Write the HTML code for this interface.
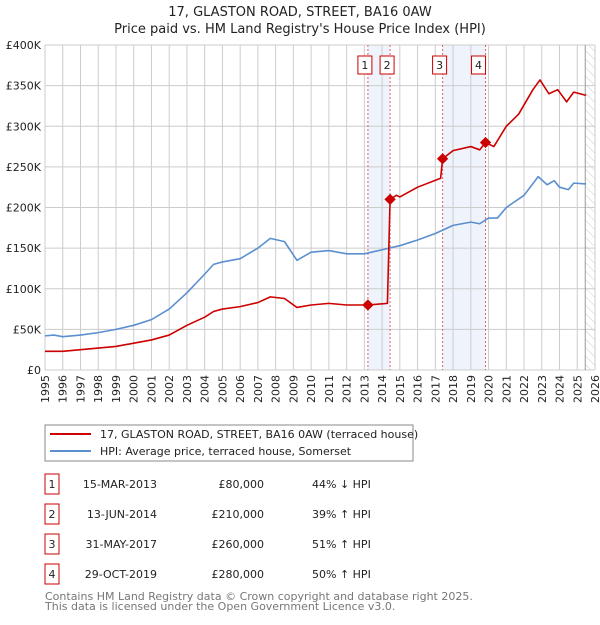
<!DOCTYPE html>
<html><head><meta charset="utf-8"><style>
body{margin:0;background:#fff;font-family:"Liberation Sans","DejaVu Sans",sans-serif}
svg text{font-family:"DejaVu Sans","Liberation Sans",sans-serif}
</style></head><body>
<svg id="c" width="600" height="620" xmlns="http://www.w3.org/2000/svg">
<text x="300" y="16" text-anchor="middle" font-size="13" fill="#222">17, GLASTON ROAD, STREET, BA16 0AW</text>
<text x="300" y="33" text-anchor="middle" font-size="13" fill="#222">Price paid vs. HM Land Registry's House Price Index (HPI)</text>
<g id="plot"></g>
<rect x="45" y="425" width="368" height="36" fill="#fff" stroke="#888"/>
<line x1="50" y1="434" x2="91" y2="434" stroke="#cc0000" stroke-width="2"/>
<text x="100" y="438" font-size="11" fill="#222">17, GLASTON ROAD, STREET, BA16 0AW (terraced house)</text>
<line x1="50" y1="451" x2="91" y2="451" stroke="#5b8fd0" stroke-width="2"/>
<text x="100" y="455" font-size="11" fill="#222">HPI: Average price, terraced house, Somerset</text>
<g id="tbl"></g>
<text x="45" y="600" font-size="11" fill="#777">Contains HM Land Registry data © Crown copyright and database right 2025.</text>
<text x="45" y="610" font-size="11" fill="#777">This data is licensed under the Open Government Licence v3.0.</text>
</svg>
<script>
const yTicks=[0,50,100,150,200,250,300,350,400];
const yTickLabels=["£0","£50K","£100K","£150K","£200K","£250K","£300K","£350K","£400K"];
const years=[1995,1996,1997,1998,1999,2000,2001,2002,2003,2004,2005,2006,2007,2008,2009,2010,2011,2012,2013,2014,2015,2016,2017,2018,2019,2020,2021,2022,2023,2024,2025,2026];
const hpiT=[1995,1995.5,1996,1997,1998,1999,2000,2001,2002,2003,2004,2004.5,2005,2006,2007,2007.7,2008.5,2009.2,2010,2011,2012,2013,2014,2015,2016,2017,2018,2019,2019.5,2020,2020.5,2021,2022,2022.8,2023.3,2023.7,2024,2024.5,2024.8,2025.5];
const hpiV=[42,43,41,43,46,50,55,62,75,95,118,130,133,137,150,162,158,135,145,147,143,143,148,153,160,168,178,182,180,187,187,200,215,238,228,233,225,222,230,229];
const redT=[1995,1996,1997,1998,1999,2000,2001,2002,2003,2004,2004.5,2005,2006,2007,2007.7,2008.5,2009.2,2010,2011,2012,2013.2,2014.3,2014.45,2014.8,2015,2016,2017.3,2017.41,2018,2019,2019.5,2019.83,2020.3,2021,2021.7,2022.5,2022.9,2023.4,2023.9,2024.4,2024.8,2025.5];
const redV=[23,23,25,27,29,33,37,43,55,65,72,75,78,83,90,88,77,80,82,80,80,82,210,215,213,225,236,260,270,275,271,280,275,300,315,345,357,340,345,330,342,338];
const saleT=[2013.2,2014.45,2017.41,2019.83];
const saleV=[80,210,260,280];
const saleLabels=["1","2","3","4"];
const saleDates=["15-MAR-2013","13-JUN-2014","31-MAY-2017","29-OCT-2019"];
const salePrices=["£80,000","£210,000","£260,000","£280,000"];
const salePct=["44% ↓ HPI","39% ↑ HPI","51% ↑ HPI","50% ↑ HPI"];
const NS="http://www.w3.org/2000/svg";
const X0=45,X1=595,Y0=370,Y1=45;
const xs=t=>X0+(t-1995)/31*(X1-X0);
const ys=v=>Y0-v/400*(Y0-Y1);
const plot=document.getElementById('plot');
function mk(tag,a,p){const e=document.createElementNS(NS,tag);for(const k in a)e.setAttribute(k,a[k]);(p||plot).appendChild(e);return e;}
for(let i=0;i<4;i+=2){const r=mk('rect',{x:xs(saleT[i]),y:Y1,width:xs(saleT[i+1])-xs(saleT[i]),height:Y0-Y1,fill:'#eef3fc'});

}
years.forEach(y=>{const l=mk('line',{x1:xs(y),x2:xs(y),y1:Y1,y2:Y0,stroke:'#ccc','stroke-width':1});


const tx=xs(y)+4,ty=Y0+5;
const t=mk('text',{x:tx,y:ty,'text-anchor':'end','font-size':11,fill:'#222',transform:`rotate(-90 ${tx} ${ty})`});t.textContent=y;

});
yTicks.forEach((v,i)=>{const l=mk('line',{x1:X0,x2:X1,y1:ys(v),y2:ys(v),stroke:'#ccc','stroke-width':1});


const t=mk('text',{x:X0-4,y:ys(v)+4,'text-anchor':'end','font-size':11,fill:'#222'});t.textContent=yTickLabels[i];

});
const defs=mk('defs',{});
const pat=mk('pattern',{id:'h',width:6,height:6,patternUnits:'userSpaceOnUse',patternTransform:'rotate(-45)'},defs);
mk('line',{x1:0,y1:0,x2:0,y2:6,stroke:'#ccc','stroke-width':1},pat);
const hx=xs(2025.45);
const hr=mk('rect',{x:hx,y:Y1,width:X1-hx,height:Y0-Y1,fill:'url(#h)'});


mk('line',{x1:hx,x2:hx,y1:Y1,y2:Y0,stroke:'#999'});
saleT.forEach((t,i)=>{const l=mk('line',{x1:xs(t),x2:xs(t),y1:Y1,y2:Y0,stroke:'#e06060','stroke-dasharray':'2,2','stroke-width':1});


const cx=xs(t)+(i==3?-7:-3);
const b=mk('rect',{x:cx-7,y:56,width:14,height:18,fill:'#fff',stroke:'#cc0000'});


const tx=mk('text',{x:cx,y:69,'text-anchor':'middle','font-size':11,fill:'#222'});tx.textContent=saleLabels[i];

});
function line(T,V,col,name){const p=mk('polyline',{points:T.map((t,i)=>xs(t)+','+ys(V[i])).join(' '),fill:'none',stroke:col,'stroke-width':1.6,'stroke-linejoin':'round'});

}
line(hpiT,hpiV,'#5b8fd0','hpi-line');
line(redT,redV,'#cc0000','property-price-line');
saleT.forEach((t,i)=>{const d=mk('rect',{x:xs(t)-4,y:ys(saleV[i])-4,width:8,height:8,fill:'#cc0000',transform:`rotate(45 ${xs(t)} ${ys(saleV[i])})`});

});
const tbl=document.getElementById('tbl');
saleT.forEach((t,i)=>{const cy=483+i*30;
const b=mk('rect',{x:45,y:cy-9,width:14,height:20,fill:'#fff',stroke:'#cc0000'},tbl);


const vals=[[52,saleLabels[i],'middle'],[157,saleDates[i],'end'],[264,salePrices[i],'end'],[312,salePct[i],'start']];
vals.forEach(v=>{const tx=mk('text',{x:v[0],y:cy+5,'text-anchor':v[2],'font-size':11,fill:'#222'},tbl);tx.textContent=v[1];

});});
</script>
</body></html>
